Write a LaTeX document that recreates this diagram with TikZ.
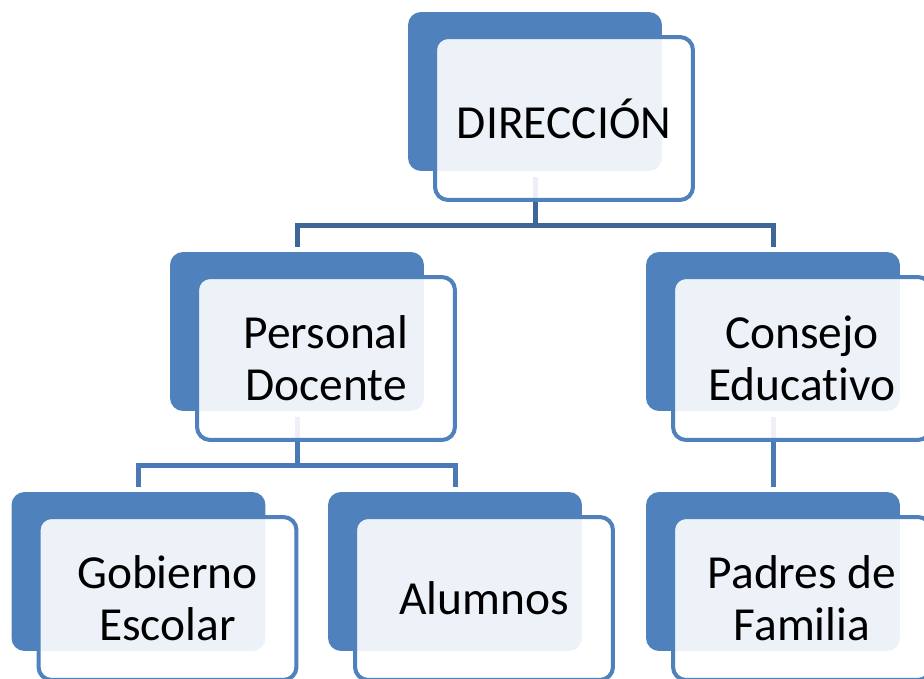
\documentclass[tikz,border=0pt]{standalone}
\usepackage{fontspec}
\setmainfont{Carlito}[Ligatures=NoCommon]
\usetikzlibrary{backgrounds}
\definecolor{boxblue}{RGB}{79,129,189}
\definecolor{linedark}{RGB}{62,103,152}
\definecolor{linemid}{RGB}{74,122,181}

\begin{document}
\begin{tikzpicture}[x=0.02cm,y=-0.02cm,
  backbox/.style={fill=boxblue,rounded corners=0.26cm,inner sep=0pt,
    minimum width=5.08cm,minimum height=3.18cm},
  frontbox/.style={draw=boxblue,line width=0.08cm,fill=white,fill opacity=0.9,
    text opacity=1,rounded corners=0.26cm,inner sep=0pt,align=center,
    minimum width=5.16cm,minimum height=3.26cm,
    font=\fontsize{27}{29.5}\selectfont},
  linktop/.style={draw=linedark,line width=0.1cm},
  linklow/.style={draw=linemid,line width=0.1cm}]
% 1 unit = 1 px of the 924x679 picture, y grows downwards
\useasboundingbox (0,0) rectangle (924,679);

% back boxes 254x159 px, front boxes shifted by (29,27)
\node[backbox] (dirback) at (535,91.5) {};
\node[frontbox] (dir) at ([shift={(29,27)}] dirback.center) {DIRECCIÓN};

\node[backbox] (pdback) at (297,331.5) {};
\node[frontbox] (pd) at ([shift={(29,27)}] pdback.center) {Personal\\Docente};

\node[backbox] (ceback) at (773,331.5) {};
\node[frontbox] (ce) at ([shift={(29,27)}] ceback.center) {Consejo\\Educativo};

\node[backbox] (geback) at (138.5,571.5) {};
\node[frontbox] (ge) at ([shift={(29,27)}] geback.center) {Gobierno\\Escolar};

\node[backbox] (alback) at (455,571.5) {};
\node[frontbox] (al) at ([shift={(29,27)}] alback.center) {Alumnos};

\node[backbox] (pfback) at (773,571.5) {};
\node[frontbox] (pf) at ([shift={(29,27)}] pfback.center) {Padres de\\Familia};

% connectors run behind the boxes; bar 48 px below the start
\begin{scope}[on background layer]
\draw[linktop] ([shift={(0,6)}] dirback.south) -- ++(0,48) -| ([shift={(0,-5)}] pdback.north);
\draw[linktop] ([shift={(0,6)}] dirback.south) -- ++(0,48) -| ([shift={(0,-5)}] ceback.north);
\draw[linklow] ([shift={(0,6)}] pdback.south) -- ++(0,48.5) -| ([shift={(0,-5)}] geback.north);
\draw[linklow] ([shift={(0,6)}] pdback.south) -- ++(0,48.5) -| ([shift={(0,-5)}] alback.north);
\draw[linklow] ([shift={(0,6)}] ceback.south) -- ([shift={(0,-5)}] pfback.north);
\end{scope}

\end{tikzpicture}
\end{document}
